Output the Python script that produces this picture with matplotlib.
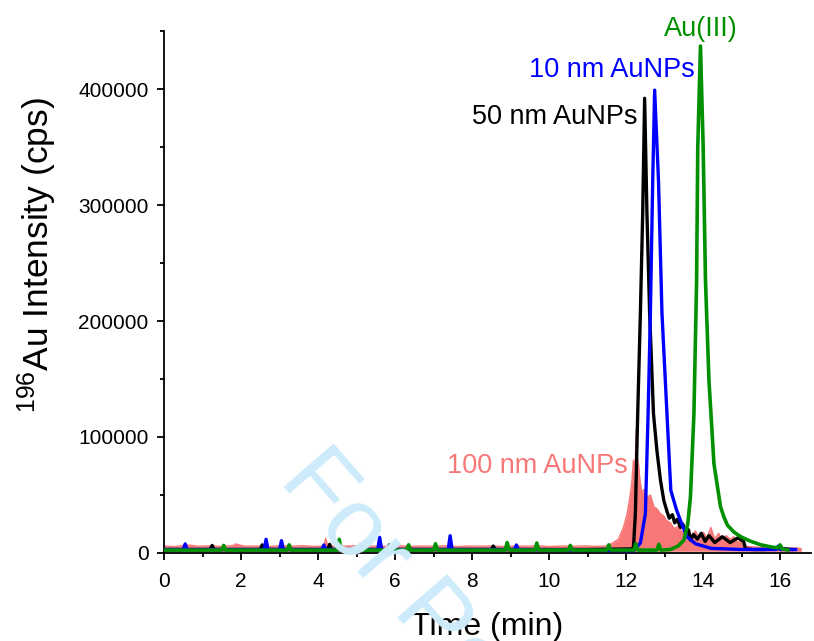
import matplotlib
matplotlib.use("Agg")
import matplotlib.pyplot as plt
from matplotlib.ticker import MultipleLocator

plt.rcParams["font.family"] = ["Liberation Sans", "DejaVu Sans"]
plt.rcParams["mathtext.fontset"] = "custom"
plt.rcParams["mathtext.rm"] = "Liberation Sans"
plt.rcParams["mathtext.default"] = "regular"

# 50 nm AuNPs (black)
t_50 = [0.0, 1.2, 1.25, 1.3, 2.5, 2.55, 2.6, 4.25, 4.3, 4.35, 5.8, 5.85, 5.9,
        8.5, 8.55, 8.6, 11.0, 12.15, 12.19, 12.24, 12.30, 12.37, 12.43, 12.48,
        12.54, 12.61, 12.71, 12.80, 12.89, 12.98, 13.06, 13.12, 13.20, 13.26,
        13.33, 13.41, 13.47, 13.55, 13.62, 13.67, 13.75, 13.85, 13.95, 14.05,
        14.15, 14.30, 14.50, 14.70, 14.90, 15.05, 15.10, 15.30, 15.60, 16.00, 16.30]
i_50 = [3000, 3000, 6500, 3000, 3000, 7000, 3000, 3000, 7500, 3000, 3000, 7000, 3000,
        3000, 6000, 3000, 3000, 3500, 5000, 34000, 120000, 207000, 293000, 392000,
        293000, 207000, 120000, 88000, 63000, 45000, 36000, 30000, 33000, 26000,
        29000, 22000, 25000, 18000, 20000, 11000, 16000, 12000, 17000, 10000,
        15000, 9000, 14000, 9000, 13000, 10000, 3500, 3000, 3000, 4000, 3000]

# 10 nm AuNPs (blue)
t_10 = [0.0, 0.5, 0.55, 0.6, 2.6, 2.65, 2.7, 3.0, 3.05, 3.1, 4.1, 4.15, 4.2,
        5.05, 5.1, 5.15, 5.55, 5.6, 5.65, 7.38, 7.43, 7.48, 9.1, 9.15, 9.2,
        12.2, 12.37, 12.50, 12.57, 12.63, 12.69, 12.74, 12.84, 12.93, 13.06,
        13.16, 13.30, 13.41, 13.58, 13.80, 14.20, 15.00, 15.90, 15.95, 16.00, 16.40]
i_10 = [3000, 3000, 7800, 3000, 3000, 11800, 3000, 3000, 10600, 3000, 3000, 6900, 3000,
        3000, 6900, 3000, 3000, 13500, 3000, 3000, 14900, 3000, 3000, 6900, 3000,
        2000, 8600, 34000, 120000, 207000, 321000, 399000, 321000, 207000, 120000,
        54000, 38000, 28000, 14000, 8000, 4000, 3000, 3000, 6000, 3000, 3000]

# Au(III) (green)
t_3 = [0.0, 1.5, 1.55, 1.6, 3.2, 3.25, 3.3, 4.5, 4.55, 4.6, 6.3, 6.35, 6.4,
       7.0, 7.05, 7.1, 8.86, 8.91, 8.96, 9.63, 9.68, 9.73, 10.5, 10.55, 10.6,
       11.5, 11.55, 11.6, 12.2, 12.25, 12.3, 12.8, 12.85, 12.9, 13.15, 13.35,
       13.50, 13.60, 13.67, 13.76, 13.83, 13.86, 13.93, 14.00, 14.06, 14.15,
       14.28, 14.45, 14.54, 14.63, 14.80, 14.98, 15.20, 15.50, 15.80, 15.95,
       16.00, 16.05, 16.20]
i_3 = [2500, 2500, 6500, 2500, 2500, 7000, 2500, 2500, 11800, 2500, 2500, 7000, 2500,
       2500, 8000, 2500, 2500, 9000, 2500, 2500, 8600, 2500, 2500, 6500, 2500,
       2500, 7000, 2500, 2500, 8000, 2500, 2500, 7500, 2500, 3000, 6000,
       11000, 25000, 48500, 120000, 235000, 350000, 437000, 350000, 235000, 149000,
       77000, 40000, 31000, 24000, 18000, 14000, 10500, 7000, 5000, 4500,
       7000, 3500, 2600]

# 100 nm AuNPs (pink), noisy band: upper edge over a floor
t_100 = [0.0, 0.3, 0.6, 0.9, 1.2, 1.5, 1.8, 1.85, 2.1, 2.4, 2.7, 3.0, 3.3, 3.6,
         3.9, 4.15, 4.2, 4.25, 4.6, 4.9, 5.2, 5.5, 5.8, 6.1, 6.4, 6.7, 7.0, 7.3,
         7.6, 7.9, 8.2, 8.5, 8.8, 9.1, 9.4, 9.7, 10.0, 10.3, 10.6, 10.9, 11.2,
         11.5, 11.67, 11.8, 11.93, 12.02, 12.10, 12.15, 12.19, 12.23, 12.26, 12.29,
         12.32, 12.36, 12.41, 12.47, 12.55, 12.63, 12.72, 12.80, 12.89, 12.97,
         13.05, 13.15, 13.25, 13.35, 13.45, 13.58, 13.70, 13.80, 13.90, 14.00,
         14.10, 14.20, 14.30, 14.40, 14.50, 14.60, 14.70, 14.80, 14.90, 15.00,
         15.06, 15.20, 15.40, 15.60, 15.80, 16.00, 16.20, 16.40, 16.55]
i_100 = [6000, 5500, 7000, 5800, 6200, 5600, 6500, 7800, 5800, 6000, 5500, 6200, 5800, 6300,
         5600, 6000, 12600, 6000, 5800, 6200, 5500, 6000, 5700, 6300, 5600, 6000, 5800, 6200,
         5500, 6000, 5800, 6100, 5600, 6000, 5800, 6200, 5500, 6000, 5800, 6100, 5700,
         6000, 9000, 12000, 22000, 33000, 48500, 62000, 80000, 70000, 106000, 82000,
         77000, 62000, 52000, 55000, 48000, 50000, 40000, 38000, 34000, 32000,
         28000, 26000, 21000, 23000, 18000, 21000, 15000, 19000, 12000, 18000,
         13000, 22000, 12000, 17000, 11000, 15000, 12000, 14000, 9000, 11000,
         6000, 5500, 5000, 4500, 5000, 4500, 4000, 4500, 3500]
pink_floor = 1500

c_black = "#000000"
c_blue = "#0000FF"
c_green = "#009000"
c_pink = "#F87777"

fig = plt.figure(figsize=(8.14, 6.41), dpi=100)
ax = fig.add_axes([0.2015, 0.1373, 0.7948, 0.8143])

ax.fill_between(t_100, pink_floor, i_100, color=c_pink, lw=0, zorder=2)
ax.plot(t_100, i_100, color=c_pink, lw=1, zorder=2)
ax.plot(t_50, i_50, color=c_black, lw=2.4, zorder=3)
ax.plot(t_10, i_10, color=c_blue, lw=2.4, zorder=4)
ax.plot(t_3, i_3, color=c_green, lw=2.6, zorder=5)

ax.text(14.9, 452000, "Au(III)", color=c_green, fontsize=19.5,
        ha="right", va="center", clip_on=False)
ax.text(13.79, 416000, "10 nm AuNPs", color=c_blue, fontsize=19.5, ha="right", va="center")
ax.text(12.29, 376000, "50 nm AuNPs", color=c_black, fontsize=19.5, ha="right", va="center")
ax.text(12.05, 75000, "100 nm AuNPs", color=c_pink, fontsize=19.5, ha="right", va="center")

# watermark
fig.text(278 / 814, 1 - 480 / 641, "For Peer Review", color="#CDEBFA", fontsize=70,
         rotation=-49, rotation_mode="anchor", ha="left", va="baseline", zorder=0)

ax.set_xlim(0, 16.8)
ax.set_ylim(0, 450000)
ax.xaxis.set_major_locator(MultipleLocator(2))
ax.xaxis.set_minor_locator(MultipleLocator(1))
ax.yaxis.set_major_locator(MultipleLocator(100000))
ax.yaxis.set_minor_locator(MultipleLocator(50000))
ax.spines["top"].set_visible(False)
ax.spines["right"].set_visible(False)
for s in ("left", "bottom"):
    ax.spines[s].set_linewidth(1.3)
ax.patch.set_alpha(0)
ax.tick_params(which="major", direction="out", length=5, width=1.3, labelsize=15)
ax.tick_params(axis="x", which="major", pad=9)
ax.tick_params(axis="y", which="major", pad=6)
ax.tick_params(which="minor", direction="out", length=3, width=1.3)

ax.set_xlabel("Time (min)", fontsize=23, labelpad=15)
fig.text(37 / 814, 1 - 255 / 641, r"$^{196}$Au Intensity (cps)", fontsize=25.5,
         rotation=90, ha="center", va="center")

plt.savefig("out.png", dpi=100)
